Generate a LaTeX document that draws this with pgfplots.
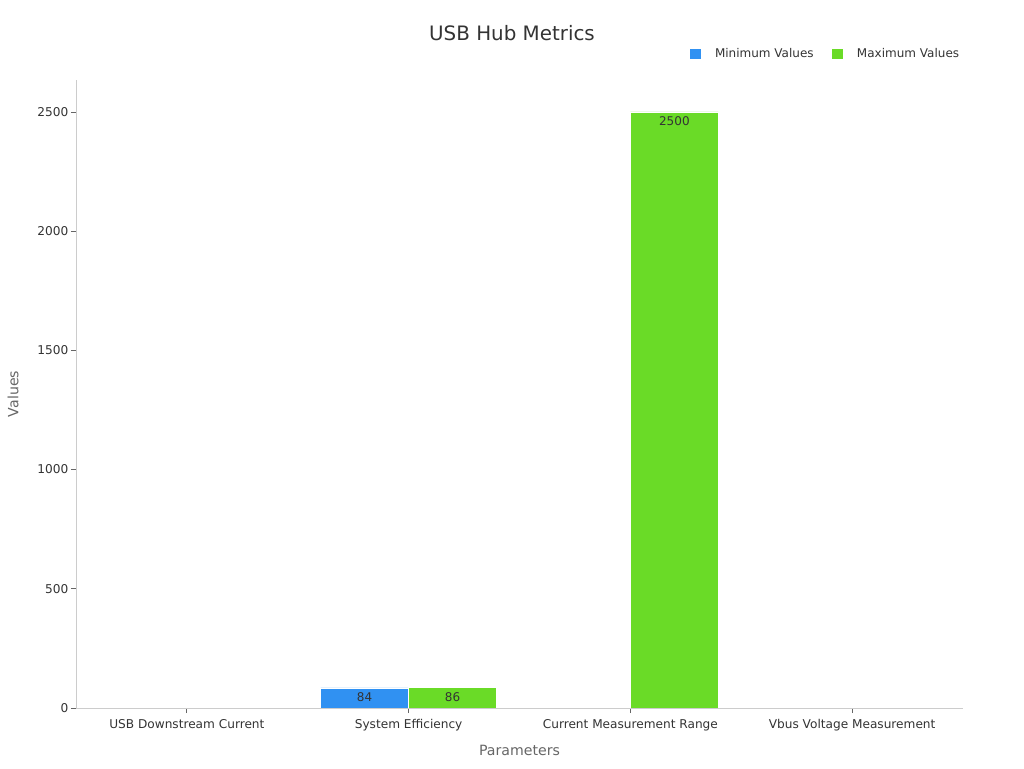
\documentclass[border=0pt]{standalone}
\usepackage{fontspec}
\setmainfont{DejaVu Sans}
\usepackage{pgfplots}
\pgfplotsset{compat=1.18}
\usepackage{pgfplotstable}
\definecolor{minblue}{RGB}{48,145,242}
\definecolor{maxgreen}{RGB}{106,219,39}
\definecolor{axgrey}{RGB}{204,204,204}
\definecolor{txt}{RGB}{51,51,51}
\definecolor{lblgrey}{RGB}{102,102,102}

\pgfplotstableread{
x y lab
0 0 {}
1 84 84
2 2 {}
3 0 {}
}\mintab
\pgfplotstableread{
x y lab
0 1 {}
1 86 86
2 2500 2500
3 3 {}
}\maxtab

\begin{document}
\begin{tikzpicture}
\useasboundingbox (0,0) rectangle (768pt,576pt);
\node[font=\fontsize{14.9}{18}\selectfont, text=txt] at (384pt,551.25pt) {USB Hub Metrics};
\begin{axis}[
  at={(57pt,45pt)}, anchor=south west,
  scale only axis, width=665.25pt, height=471pt,
  axis on top,
  ybar=0pt, bar width=66pt,
  xmin=-0.5, xmax=3.5, ymin=0, ymax=2634,
  enlargelimits=false,
  axis lines=left,
  axis line style={-, draw=axgrey, line width=0.75pt},
  tick style={draw=lblgrey, line width=0.6pt},
  tick align=outside, major tick length=3.75pt,
  xtick={0,1,2,3},
  xticklabels={USB Downstream Current, System Efficiency, Current Measurement Range, Vbus Voltage Measurement},
  ytick={0,500,1000,1500,2000,2500},
  /pgf/number format/assume math mode=true,
  /pgf/number format/1000 sep={},
  ticklabel style={font=\fontsize{9.1}{11}\selectfont, text=txt},
  xticklabel style={yshift=-1pt},
  yticklabel style={xshift=1.5pt},
  xlabel={Parameters}, ylabel={Values},
  label style={font=\fontsize{10.6}{12}\selectfont, text=lblgrey},
  xlabel style={at={(axis description cs:0.5,-0.0669)}, anchor=center},
  ylabel style={at={(axis description cs:-0.071,0.5)}, anchor=center},
  legend style={at={(axis description cs:1.0,1.043)}, anchor=east, xshift=2.3pt, yshift=-0.75pt,
    draw=none, fill=none,
    legend columns=2, font=\fontsize{9}{11}\selectfont, text=txt,
    /tikz/every even column/.append style={column sep=12pt}},
  legend image code/.code={\fill[#1, draw=none] (0pt,-4.1pt) rectangle (8.25pt,4.1pt);
    \path[draw=none, fill=none] (8.25pt,0pt) rectangle (16.5pt,0.01pt);},
  legend cell align=left,
  nodes near coords,
  point meta=explicit symbolic,
  nodes near coords style={anchor=north, font=\fontsize{9}{11}\selectfont, text=txt},
]
\addplot[fill=minblue, draw=white, line width=0.5pt] table[x=x, y=y, meta=lab]{\mintab};
\addplot[fill=maxgreen, draw=white, line width=0.5pt] table[x=x, y=y, meta=lab]{\maxtab};
\legend{Minimum Values, Maximum Values}
\end{axis}
\end{tikzpicture}
\end{document}
